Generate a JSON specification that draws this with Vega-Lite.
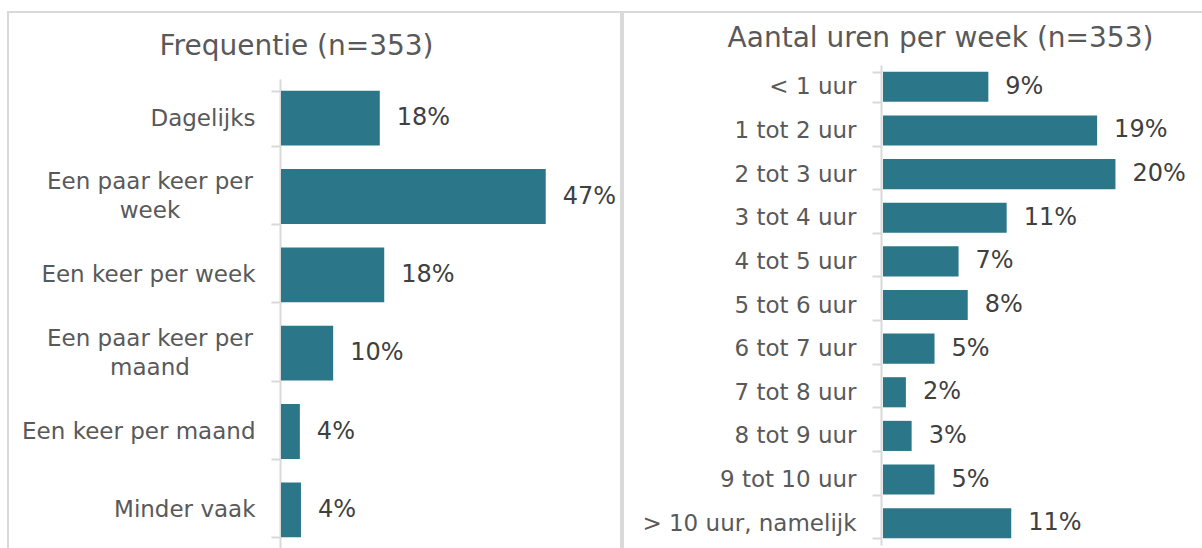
{
  "$schema": "https://vega.github.io/schema/vega-lite/v6.json",
  "padding": {"left": 7, "top": 0, "right": 0, "bottom": 0},
  "background": "white",
  "spacing": 0,
  "config": {
    "view": {"stroke": "#d9d9d9", "strokeWidth": 2},
    "font": "DejaVu Sans",
    "title": {"font": "DejaVu Sans", "fontSize": 28, "fontWeight": "normal", "color": "#595959", "anchor": "middle"},
    "axis": {
      "domainColor": "#d9d9d9", "domainWidth": 2,
      "tickColor": "#d9d9d9", "tickWidth": 2, "tickSize": 9, "tickBand": "extent",
      "labelFont": "DejaVu Sans", "labelFontSize": 23, "labelColor": "#595959",
      "labelPadding": 16, "labelLimit": 0, "labelOverlap": false,
      "grid": false
    }
  },
  "datasets": {
    "freq": [
      {"categorie": "Dagelijks", "pct": 17.8, "label": "18%"},
      {"categorie": "Een paar keer per week", "pct": 47.7, "label": "47%", "tekst": "Een paar keer per|week"},
      {"categorie": "Een keer per week", "pct": 18.6, "label": "18%"},
      {"categorie": "Een paar keer per maand", "pct": 9.4, "label": "10%", "tekst": "Een paar keer per|maand"},
      {"categorie": "Een keer per maand", "pct": 3.4, "label": "4%"},
      {"categorie": "Minder vaak", "pct": 3.6, "label": "4%"}
    ],
    "uren": [
      {"categorie": "< 1 uur", "pct": 9.2, "label": "9%"},
      {"categorie": "1 tot 2 uur", "pct": 18.7, "label": "19%"},
      {"categorie": "2 tot 3 uur", "pct": 20.3, "label": "20%"},
      {"categorie": "3 tot 4 uur", "pct": 10.8, "label": "11%"},
      {"categorie": "4 tot 5 uur", "pct": 6.6, "label": "7%"},
      {"categorie": "5 tot 6 uur", "pct": 7.4, "label": "8%"},
      {"categorie": "6 tot 7 uur", "pct": 4.5, "label": "5%"},
      {"categorie": "7 tot 8 uur", "pct": 2.0, "label": "2%"},
      {"categorie": "8 tot 9 uur", "pct": 2.5, "label": "3%"},
      {"categorie": "9 tot 10 uur", "pct": 4.5, "label": "5%"},
      {"categorie": "> 10 uur, namelijk", "pct": 11.2, "label": "11%"}
    ]
  },
  "hconcat": [
    {
      "width": 613,
      "height": 540,
      "title": {"text": "Frequentie (n=353)", "offset": -53, "dx": -18, "dy": 7},
      "data": {"name": "freq"},
      "encoding": {
        "y": {
          "field": "categorie", "type": "nominal", "sort": null,
          "scale": {"range": [67, 537], "paddingInner": 0.3, "paddingOuter": 0.15},
          "axis": {
            "title": null, "offset": -272,
            "labelExpr": "(datum.value == 'Een paar keer per week' || datum.value == 'Een paar keer per maand') ? '' : datum.label"
          }
        },
        "x": {
          "field": "pct", "type": "quantitative",
          "scale": {"domain": [0, 50], "range": [273, 550.5], "nice": false},
          "axis": null
        }
      },
      "layer": [
        {"mark": {"type": "bar", "color": "#2b7689"}},
        {
          "mark": {"type": "text", "align": "left", "baseline": "middle", "dx": 17, "fontSize": 24, "color": "#404040", "font": "DejaVu Sans"},
          "encoding": {"text": {"field": "label"}}
        },
        {
          "transform": [{"filter": "isValid(datum.tekst)"}],
          "mark": {"type": "text", "align": "center", "baseline": "middle", "dx": -131, "dy": -14.5, "lineBreak": "|", "lineHeight": 29, "fontSize": 23, "color": "#595959", "font": "DejaVu Sans"},
          "encoding": {"x": {"datum": 0}, "text": {"field": "tekst"}}
        }
      ]
    },
    {
      "width": 583,
      "height": 540,
      "title": {"text": "Aantal uren per week (n=353)", "offset": -46, "dx": 26, "dy": 6},
      "data": {"name": "uren"},
      "encoding": {
        "y": {
          "field": "categorie", "type": "nominal", "sort": null,
          "scale": {"range": [53, 533], "paddingInner": 0.31, "paddingOuter": 0.155},
          "axis": {"title": null, "offset": -258}
        },
        "x": {
          "field": "pct", "type": "quantitative",
          "scale": {"domain": [0, 25], "range": [260, 546.25], "nice": false},
          "axis": null
        }
      },
      "layer": [
        {"mark": {"type": "bar", "color": "#2b7689"}},
        {
          "mark": {"type": "text", "align": "left", "baseline": "middle", "dx": 17, "fontSize": 24, "color": "#404040", "font": "DejaVu Sans"},
          "encoding": {"text": {"field": "label"}}
        }
      ]
    }
  ]
}
